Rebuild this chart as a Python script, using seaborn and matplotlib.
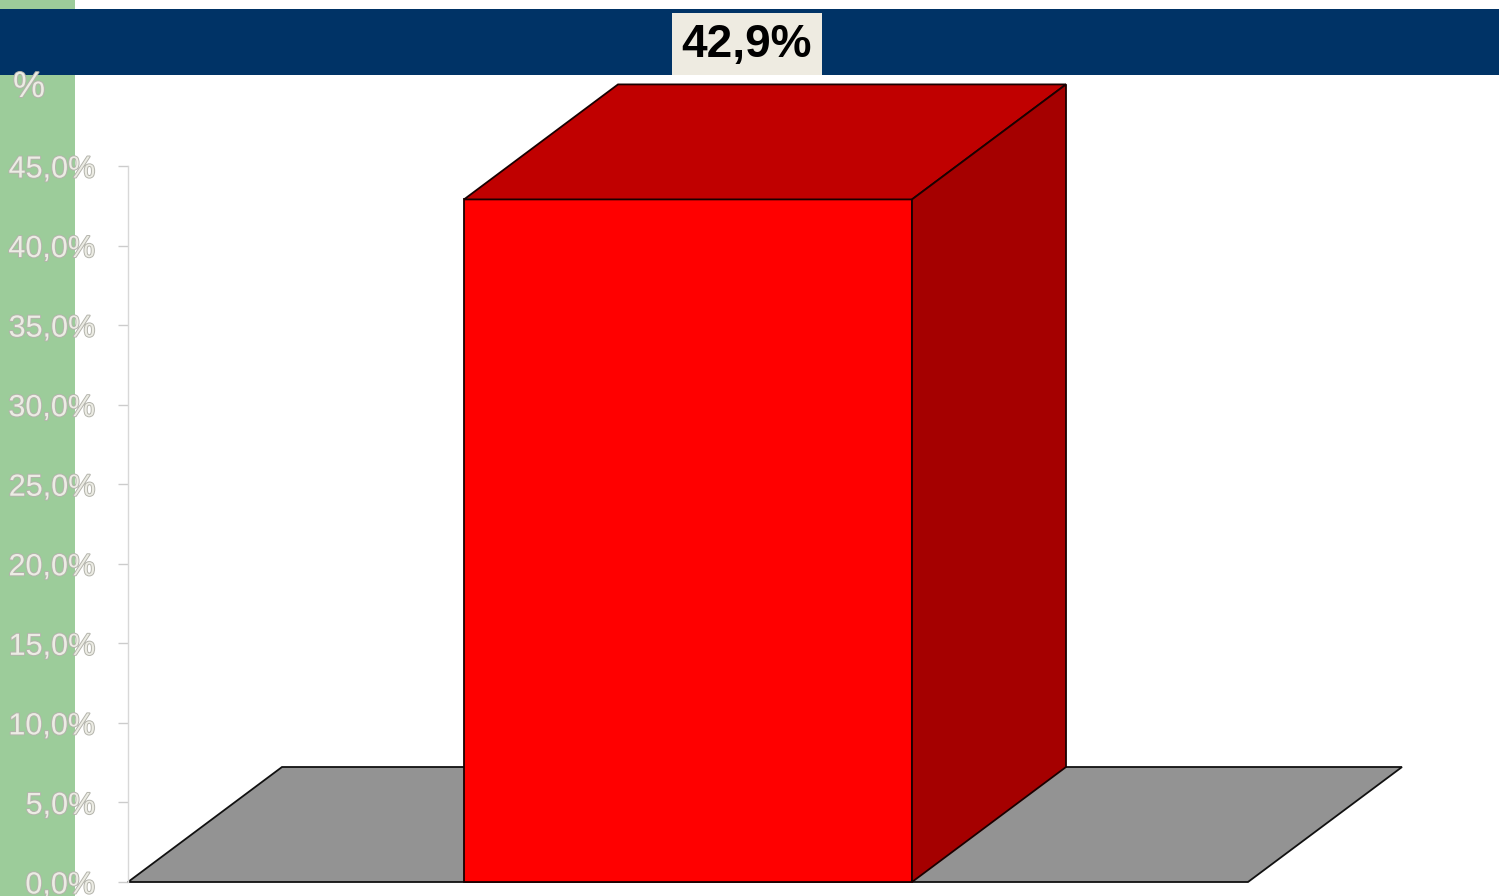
import matplotlib
matplotlib.use("Agg")
import matplotlib.pyplot as plt
import matplotlib.patheffects as pe
import seaborn as sns
import pandas as pd
from matplotlib.patches import Polygon, Rectangle
from matplotlib.ticker import FuncFormatter, MultipleLocator

# ---- data ----
categories = ["Total"]
values = [42.9]
y_max = 45.0
y_step = 5.0

sns.set_style("white")
plt.rcParams['font.family'] = ['Liberation Sans', 'DejaVu Sans']

W, H = 1499, 896
fig = plt.figure(figsize=(W / 100, H / 100), dpi=100)
fig.patch.set_facecolor("white")

# background decorations
fig.patches.append(Rectangle((0, 0), 75 / W, 1, transform=fig.transFigure,
                             facecolor="#9ccc9a", edgecolor="none", zorder=-3))
fig.patches.append(Rectangle((0, 1 - 75 / H), 1, 66 / H, transform=fig.transFigure,
                             facecolor="#003366", edgecolor="none", zorder=-2))

ax_left, ax_right = 128, 1248
ax_bottom, ax_top = 882, 166
ax = fig.add_axes([ax_left / W, (H - ax_bottom) / H,
                   (ax_right - ax_left) / W, (ax_bottom - ax_top) / H])
ax.set_facecolor("none")

df = pd.DataFrame({"cat": categories, "val": values})
sns.barplot(data=df, x="cat", y="val", ax=ax, width=0.4, color="#ff0000",
            saturation=1, edgecolor="#1a0000", linewidth=1.3, zorder=3)

ax.set_xlim(-0.5, 0.5)
ax.set_ylim(0, y_max)

# 3D depth offset (in data units)
dx = 154 / (ax_right - ax_left)
dy = 115 * y_max / (ax_bottom - ax_top)

# floor
floor = Polygon([(-0.5, 0), (0.5, 0), (0.5 + dx, dy), (-0.5 + dx, dy)],
                closed=True, facecolor="#939393", edgecolor="#111111",
                linewidth=1.3, zorder=1, clip_on=False)
ax.add_patch(floor)

# top and side faces of each bar
for p in list(ax.patches):
    if p is floor:
        continue
    x0 = p.get_x()
    x1 = x0 + p.get_width()
    v = p.get_height()
    top = Polygon([(x0, v), (x1, v), (x1 + dx, v + dy), (x0 + dx, v + dy)],
                  closed=True, facecolor="#c00000", edgecolor="#1a0000",
                  linewidth=1.3, zorder=4, clip_on=False)
    side = Polygon([(x1, 0), (x1 + dx, dy), (x1 + dx, v + dy), (x1, v)],
                   closed=True, facecolor="#a50000", edgecolor="#1a0000",
                   linewidth=1.3, zorder=4, clip_on=False)
    ax.add_patch(top)
    ax.add_patch(side)
    p.set_clip_on(False)

# axes styling
for s in ["top", "right", "bottom"]:
    ax.spines[s].set_visible(False)
ax.spines["left"].set_color("#d8d8d8")
ax.spines["left"].set_linewidth(1.0)
ax.set_xticks([])
ax.set_xlabel("")
ax.set_ylabel("")
ax.yaxis.set_major_locator(MultipleLocator(y_step))
ax.yaxis.set_major_formatter(FuncFormatter(lambda v, _: f"{v:.1f}".replace(".", ",") + "%"))
ax.tick_params(axis="y", left=True, length=7.5, width=1.0, color="#cccccc",
               pad=16, labelsize=22, labelcolor="#ececE4")
outline = [pe.withStroke(linewidth=1.4, foreground="#b4b4ac")]
for t in ax.get_yticklabels():
    t.set_path_effects(outline)

# axis unit label
fig.text(13 / W, 1 - 70 / H, "%", fontsize=26, color="#ececE4", ha="left",
         va="top", path_effects=outline)

# value label box in the header band
fig.patches.append(Rectangle((672 / W, 1 - 75 / H), 150 / W, 62 / H,
                             transform=fig.transFigure, facecolor="#eeebe1",
                             edgecolor="none", zorder=-1))
label = f"{values[0]:.1f}".replace(".", ",") + "%"
fig.text(747 / W, 1 - 45 / H, label, fontsize=33, fontweight="bold",
         color="black", ha="center", va="center")

fig.savefig("out.png", dpi=100)
